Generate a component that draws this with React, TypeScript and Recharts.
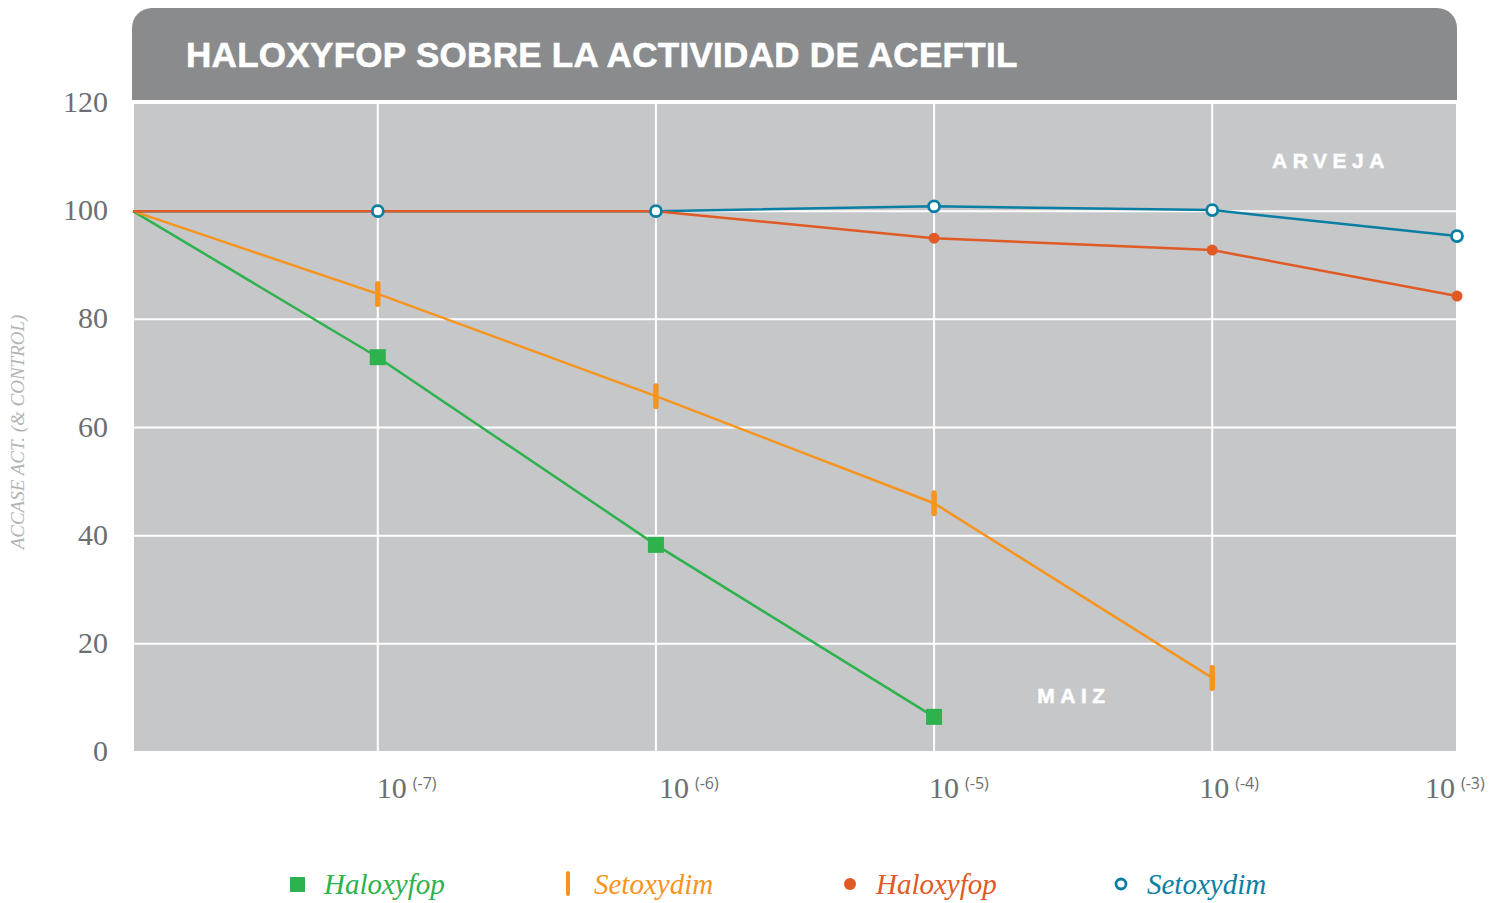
import React from 'react';
import { LineChart, Line, XAxis, YAxis, CartesianGrid } from 'recharts';

// ---- data ----
const doses = [-7.88, -7, -6, -5, -4, -3.12];
const maizHaloxyfop = [100, 73, 38.3, 6.5, null, null];
const maizSetoxydim = [100, 84.7, 65.8, 46, 13.7, null];
const arvejaHaloxyfop = [100, 100, 100, 95, 92.8, 84.3];
const arvejaSetoxydim = [100, 100, 100, 100.9, 100.2, 95.4];
const xTicks = [-7, -6, -5, -4, -3.12];
const xTickBase = '10';
const xTickExponents = ['(-7)', '(-6)', '(-5)', '(-4)', '(-3)'];
const yTicks = [0, 20, 40, 60, 80, 100, 120];
const legendNames = ['Haloxyfop', 'Setoxydim', 'Haloxyfop', 'Setoxydim'];
const title = 'HALOXYFOP SOBRE LA ACTIVIDAD DE ACEFTIL';
const yTitle = 'ACCASE ACT. (& CONTROL)';

// ---- style ----
const GREEN = '#2db24d';
const ORANGE = '#f7941d';
const RED = '#e05a26';
const TEAL = '#0b7ea3';
const xLabelShift = [-1, 3, -5, -13, -32];

const data = doses.map((d, i) => ({
  dose: d,
  mh: maizHaloxyfop[i],
  ms: maizSetoxydim[i],
  ah: arvejaHaloxyfop[i],
  as: arvejaSetoxydim[i],
}));

const skip = (p: any) => p.index === 0 || p.value == null || p.cx == null;

const SquareDot = (p: any) => {
  if (skip(p)) return <g key={`sq-${p.index}`} />;
  return <rect key={`sq-${p.index}`} x={p.cx - 8} y={p.cy - 8} width={16} height={16} fill={GREEN} />;
};
const BarDot = (p: any) => {
  if (skip(p)) return <g key={`bd-${p.index}`} />;
  return <rect key={`bd-${p.index}`} x={p.cx - 2.75} y={p.cy - 13} width={5.5} height={26} rx={2.75} fill={ORANGE} />;
};
const RedDot = (p: any) => {
  if (skip(p)) return <g key={`rd-${p.index}`} />;
  return <circle key={`rd-${p.index}`} cx={p.cx} cy={p.cy} r={5.5} fill={RED} />;
};
const TealDot = (p: any) => {
  if (skip(p)) return <g key={`td-${p.index}`} />;
  return <circle key={`td-${p.index}`} cx={p.cx} cy={p.cy} r={5.5} fill="#ffffff" stroke={TEAL} strokeWidth={2.8} />;
};

const XTick = (props: any) => {
  const { x, y, index } = props;
  return (
    <text x={x + xLabelShift[index]} y={y + 46} textAnchor="start" fill="#6d6e71"
      fontFamily="'Liberation Serif', serif" fontSize={30}>
      <tspan>{xTickBase}</tspan>
      <tspan dx={6} dy={-9} fontSize={16} fontFamily="'Open Sans', sans-serif">{xTickExponents[index]}</tspan>
    </text>
  );
};

const YTick = (props: any) => {
  const { x, y, payload } = props;
  return (
    <text x={x} y={y} dy={9} textAnchor="end" fill="#6d6e71" fontFamily="'Liberation Serif', serif" fontSize={30}>
      {payload.value}
    </text>
  );
};

const legendIcons = [
  <svg width={20} height={30} key="i0"><rect x={2} y={8} width={15} height={15} fill={GREEN} /></svg>,
  <svg width={20} height={30} key="i1"><rect x={8} y={2} width={4} height={25} rx={2} fill={ORANGE} /></svg>,
  <svg width={20} height={30} key="i2"><circle cx={10} cy={15} r={6} fill={RED} /></svg>,
  <svg width={20} height={30} key="i3"><circle cx={10} cy={15} r={5} fill="#fff" stroke={TEAL} strokeWidth={2.8} /></svg>,
];
const legendColors = [GREEN, ORANGE, RED, TEAL];
const legendIconX = [288, 558, 840, 1111];

export default function App() {
  return (
    <div style={{ position: 'absolute', left: 0, top: 0, width: 1507, height: 903, background: '#fff', overflow: 'hidden' }}>
      <div style={{ position: 'absolute', left: 132, top: 8, width: 1325, height: 92, background: '#8a8b8d', borderRadius: '20px 20px 0 0' }} />
      <div style={{ position: 'absolute', left: 186, top: 35, color: '#fff', fontFamily: "'Liberation Sans', Arial, sans-serif", fontWeight: 700, fontSize: 35, letterSpacing: 0.3, lineHeight: '40px', whiteSpace: 'nowrap', WebkitTextStroke: '0.6px #fff' }}>{title}</div>
      <div style={{ position: 'absolute', left: 0, top: 0 }}>
        <LineChart width={1507} height={903} data={data} margin={{ top: 103, right: 50, bottom: 91, left: 0 }}>
          <CartesianGrid fill="#c6c7c9" stroke="#ffffff" strokeWidth={2} />
          <XAxis dataKey="dose" type="number" domain={['dataMin', 'dataMax']} ticks={xTicks}
            axisLine={false} tickLine={false} tickSize={0} tickMargin={0} height={60} tick={<XTick />} interval={0} />
          <YAxis type="number" domain={[0, 120]} ticks={yTicks} width={133} axisLine={false} tickLine={false}
            tickSize={0} tickMargin={25} interval={0} tick={<YTick />} />
          <Line dataKey="mh" stroke={GREEN} strokeWidth={2.5} dot={SquareDot} isAnimationActive={false} activeDot={false} />
          <Line dataKey="ms" stroke={ORANGE} strokeWidth={2.5} dot={BarDot} isAnimationActive={false} activeDot={false} />
          <Line dataKey="as" stroke={TEAL} strokeWidth={2.5} dot={false} isAnimationActive={false} activeDot={false} />
          <Line dataKey="ah" stroke={RED} strokeWidth={2.5} dot={RedDot} isAnimationActive={false} activeDot={false} />
          <Line dataKey="as" stroke="none" dot={TealDot} isAnimationActive={false} activeDot={false} legendType="none" />
        </LineChart>
      </div>
      <svg style={{ position: 'absolute', left: 0, top: 0 }} width={1507} height={903}>
        <text x={0} y={0} transform="translate(24,432) rotate(-90)" textAnchor="middle" fill="#b3b4b6"
          fontFamily="'Liberation Serif', serif" fontStyle="italic" fontSize={19}>{yTitle}</text>
        <text x={1331} y={168} textAnchor="middle" fill="#fff" fontFamily="'Liberation Sans', Arial, sans-serif"
          fontWeight={700} fontSize={21} letterSpacing={5.5} stroke="#fff" strokeWidth={0.5}>ARVEJA</text>
        <text x={1074} y={703} textAnchor="middle" fill="#fff" fontFamily="'Liberation Sans', Arial, sans-serif"
          fontWeight={700} fontSize={21} letterSpacing={5.5} stroke="#fff" strokeWidth={0.5}>MAIZ</text>
      </svg>
      {legendNames.map((n, i) => (
        <div key={i} style={{ position: 'absolute', left: legendIconX[i], top: 868, display: 'flex', alignItems: 'center', whiteSpace: 'nowrap' }}>
          {legendIcons[i]}
          <span style={{ marginLeft: 16, color: legendColors[i], fontFamily: "'Liberation Serif', serif", fontStyle: 'italic', fontSize: 29, lineHeight: '32px' }}>{n}</span>
        </div>
      ))}
    </div>
  );
}
